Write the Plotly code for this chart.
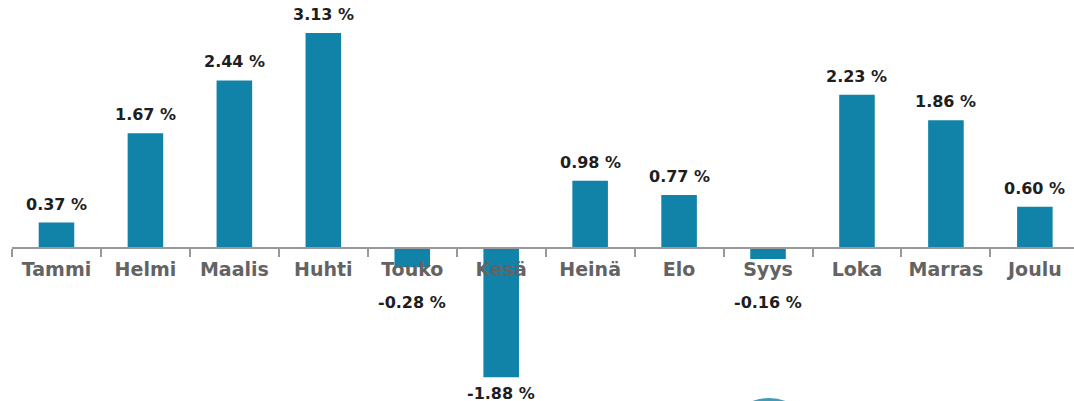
import plotly.graph_objects as go

months = ["Tammi", "Helmi", "Maalis", "Huhti", "Touko", "Kesä", "Heinä", "Elo", "Syys", "Loka", "Marras", "Joulu"]
values = [0.37, 1.67, 2.44, 3.13, -0.28, -1.88, 0.98, 0.77, -0.16, 2.23, 1.86, 0.60]
labels = ["0.37 %", "1.67 %", "2.44 %", "3.13 %", "-0.28 %", "-1.88 %", "0.98 %", "0.77 %", "-0.16 %", "2.23 %", "1.86 %", "0.60 %"]

bar_color = "#1283a8"
ymin, ymax = -2.227, 3.61

fig = go.Figure(go.Bar(x=months, y=values, marker_color=bar_color, width=0.4,
                       marker_line_width=0, hoverinfo="skip"))

lab_font = dict(family="DejaVu Sans", size=16, color="#1e1e1e", weight="bold")
for m, v, t in zip(months, values, labels):
    if v >= 0:
        fig.add_annotation(x=m, y=v, text=t, showarrow=False, yanchor="bottom", yshift=7, font=lab_font)
    else:
        fig.add_annotation(x=m, y=min(v, -0.55), text=t, showarrow=False, yanchor="top", yshift=-5, font=lab_font)

pos = (0 - ymin) / (ymax - ymin)

fig.update_layout(
    width=1074, height=401,
    margin=dict(l=12, r=0, t=0, b=0),
    paper_bgcolor="white", plot_bgcolor="white",
    showlegend=False,
    xaxis=dict(range=[-0.5, 11.44], anchor="free", position=pos,
               showline=True, linecolor="#999999", linewidth=1.5,
               ticks="outside", ticklen=8, tickcolor="#999999", tickwidth=1.5,
               tickson="boundaries", showgrid=False, zeroline=False,
               ticklabelstandoff=4,
               tickfont=dict(family="DejaVu Sans", size=19, color="#636363", weight="bold")),
    yaxis=dict(range=[ymin, ymax], visible=False, showgrid=False, zeroline=False),
    shapes=[dict(type="circle", xref="paper", yref="paper",
                 x0=(722 - 12) / 1062, x1=(816 - 12) / 1062,
                 y0=-91 / 401, y1=3 / 401, fillcolor=bar_color, line_width=0, layer="above",
                 opacity=0.8)],
)

fig.write_html("out.html")
